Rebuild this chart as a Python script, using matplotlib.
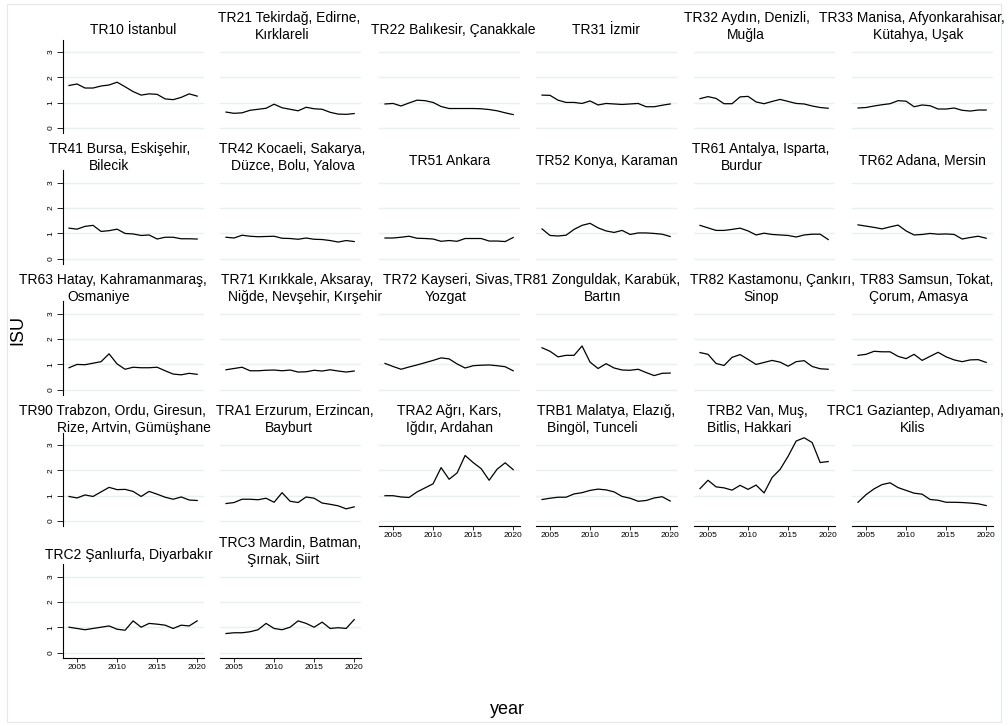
import matplotlib
matplotlib.use("Agg")
import matplotlib.pyplot as plt
from matplotlib.patches import Rectangle

plt.rcParams['font.family'] = ['Liberation Sans', 'DejaVu Sans']

years = list(range(2004, 2021))

regions = [
    "TR10 İstanbul", "TR21 Tekirdağ, Edirne,\nKırklareli", "TR22 Balıkesir, Çanakkale",
    "TR31 İzmir", "TR32 Aydın, Denizli,\nMuğla", "TR33 Manisa, Afyonkarahisar,\nKütahya, Uşak",
    "TR41 Bursa, Eskişehir,\nBilecik", "TR42 Kocaeli, Sakarya,\nDüzce, Bolu, Yalova", "TR51 Ankara",
    "TR52 Konya, Karaman", "TR61 Antalya, Isparta,\nBurdur", "TR62 Adana, Mersin",
    "TR63 Hatay, Kahramanmaraş,\nOsmaniye", "TR71 Kırıkkale, Aksaray,\nNiğde, Nevşehir, Kırşehir",
    "TR72 Kayseri, Sivas,\nYozgat", "TR81 Zonguldak, Karabük,\nBartın",
    "TR82 Kastamonu, Çankırı,\nSinop", "TR83 Samsun, Tokat,\nÇorum, Amasya",
    "TR90 Trabzon, Ordu, Giresun,\nRize, Artvin, Gümüşhane", "TRA1 Erzurum, Erzincan,\nBayburt",
    "TRA2 Ağrı, Kars,\nIğdır, Ardahan", "TRB1 Malatya, Elazığ,\nBingöl, Tunceli",
    "TRB2 Van, Muş,\nBitlis, Hakkari", "TRC1 Gaziantep, Adıyaman,\nKilis",
    "TRC2 Şanlıurfa, Diyarbakır", "TRC3 Mardin, Batman,\nŞırnak, Siirt",
]

tr10 = [1.68, 1.74, 1.58, 1.58, 1.66, 1.70, 1.81, 1.63, 1.44, 1.30, 1.35, 1.33, 1.15, 1.12, 1.21, 1.35, 1.26]
tr21 = [0.63, 0.58, 0.60, 0.70, 0.74, 0.78, 0.94, 0.80, 0.74, 0.68, 0.82, 0.76, 0.74, 0.62, 0.55, 0.54, 0.57]
tr22 = [0.95, 0.97, 0.87, 0.99, 1.10, 1.08, 1.01, 0.85, 0.77, 0.77, 0.77, 0.77, 0.76, 0.73, 0.68, 0.60, 0.53]
tr31 = [1.30, 1.29, 1.10, 1.01, 1.01, 0.97, 1.07, 0.91, 0.97, 0.95, 0.93, 0.95, 0.97, 0.84, 0.84, 0.90, 0.95]
tr32 = [1.16, 1.24, 1.17, 0.96, 0.96, 1.23, 1.25, 1.03, 0.96, 1.05, 1.13, 1.05, 0.97, 0.95, 0.87, 0.81, 0.78]
tr33 = [0.79, 0.81, 0.87, 0.92, 0.96, 1.08, 1.06, 0.84, 0.91, 0.88, 0.75, 0.75, 0.79, 0.70, 0.67, 0.71, 0.71]
tr41 = [1.20, 1.16, 1.27, 1.31, 1.07, 1.10, 1.16, 0.99, 0.97, 0.91, 0.93, 0.77, 0.84, 0.84, 0.78, 0.78, 0.77]
tr42 = [0.84, 0.81, 0.92, 0.88, 0.86, 0.87, 0.88, 0.80, 0.79, 0.76, 0.81, 0.76, 0.75, 0.71, 0.65, 0.71, 0.67]
tr51 = [0.81, 0.81, 0.84, 0.88, 0.80, 0.79, 0.77, 0.68, 0.71, 0.68, 0.79, 0.79, 0.79, 0.69, 0.69, 0.67, 0.83]
tr52 = [1.17, 0.91, 0.89, 0.92, 1.15, 1.31, 1.39, 1.21, 1.09, 1.03, 1.11, 0.95, 1.01, 1.01, 0.99, 0.96, 0.87]
tr61 = [1.31, 1.21, 1.11, 1.11, 1.15, 1.20, 1.09, 0.93, 1.00, 0.95, 0.93, 0.91, 0.85, 0.93, 0.96, 0.96, 0.75]
tr62 = [1.33, 1.28, 1.23, 1.17, 1.25, 1.32, 1.09, 0.93, 0.95, 0.99, 0.96, 0.97, 0.95, 0.77, 0.83, 0.88, 0.80]
tr63 = [0.86, 0.99, 0.98, 1.04, 1.10, 1.41, 1.01, 0.80, 0.88, 0.86, 0.86, 0.88, 0.74, 0.61, 0.58, 0.64, 0.60]
tr71 = [0.78, 0.83, 0.88, 0.74, 0.74, 0.76, 0.77, 0.74, 0.77, 0.69, 0.70, 0.76, 0.73, 0.78, 0.73, 0.69, 0.73]
tr72 = [1.03, 0.91, 0.80, 0.89, 0.97, 1.06, 1.15, 1.25, 1.21, 1.01, 0.85, 0.94, 0.96, 0.97, 0.94, 0.90, 0.74]
tr81 = [1.65, 1.51, 1.29, 1.35, 1.35, 1.72, 1.08, 0.83, 1.02, 0.85, 0.77, 0.76, 0.80, 0.67, 0.55, 0.64, 0.65]
tr82 = [1.46, 1.39, 1.03, 0.95, 1.27, 1.38, 1.19, 0.99, 1.07, 1.15, 1.08, 0.92, 1.10, 1.14, 0.91, 0.82, 0.80]
tr83 = [1.35, 1.39, 1.51, 1.49, 1.49, 1.31, 1.22, 1.39, 1.15, 1.31, 1.47, 1.29, 1.17, 1.10, 1.17, 1.18, 1.07]
tr90 = [0.97, 0.91, 1.03, 0.97, 1.15, 1.33, 1.24, 1.25, 1.17, 0.97, 1.17, 1.06, 0.94, 0.86, 0.95, 0.83, 0.81]
tra1 = [0.69, 0.73, 0.86, 0.86, 0.84, 0.90, 0.74, 1.12, 0.78, 0.73, 0.95, 0.90, 0.71, 0.66, 0.60, 0.48, 0.56]
tra2 = [1.00, 1.00, 0.95, 0.93, 1.15, 1.31, 1.47, 2.11, 1.65, 1.90, 2.59, 2.31, 2.07, 1.61, 2.05, 2.30, 2.03]
trb1 = [0.85, 0.90, 0.94, 0.94, 1.07, 1.12, 1.21, 1.26, 1.23, 1.15, 0.97, 0.90, 0.78, 0.81, 0.91, 0.96, 0.79]
trb2 = [1.28, 1.61, 1.35, 1.31, 1.22, 1.41, 1.25, 1.42, 1.11, 1.72, 2.04, 2.56, 3.16, 3.29, 3.10, 2.31, 2.35]
trc1 = [0.74, 1.04, 1.27, 1.44, 1.51, 1.32, 1.21, 1.10, 1.06, 0.85, 0.82, 0.74, 0.74, 0.73, 0.71, 0.68, 0.61]
trc2 = [1.00, 0.95, 0.90, 0.95, 1.00, 1.05, 0.92, 0.88, 1.25, 1.00, 1.15, 1.12, 1.08, 0.95, 1.08, 1.05, 1.25]
trc3 = [0.75, 0.78, 0.78, 0.82, 0.90, 1.15, 0.95, 0.90, 1.00, 1.25, 1.15, 1.00, 1.20, 0.95, 0.98, 0.95, 1.30]

series = [tr10, tr21, tr22, tr31, tr32, tr33, tr41, tr42, tr51, tr52, tr61, tr62,
          tr63, tr71, tr72, tr81, tr82, tr83, tr90, tra1, tra2, trb1, trb2, trc1, trc2, trc3]

# horizontal nudge (px) of each title line from the panel centre
title_dx = [
    (0,), (-1, -8), (4,), (0,), (-18, -19), (-11, -4),
    (-14, -24), (2, 2), (0,), (0,), (-4, -23), (0,),
    (-21, -35), (7, 15), (-2, -4), (-9, -4), (8, -3), (4, -4),
    (-21, 0), (4, -2), (0, 0), (0, -14), (-7, -15), (-7, -10),
    (-5,), (0, -7),
]

W, H = 1008, 726
fig = plt.figure(figsize=(W / 100, H / 100), dpi=100)
fig.patch.set_facecolor("white")

# light frame around the graph region
fig.add_artist(Rectangle((7 / W, 4 / H), 994 / W, 718 / H, transform=fig.transFigure,
                         fill=False, edgecolor="#e3e8ea", linewidth=0.8))

grid_col = "#e8f0f2"
ylo, yhi = -0.2, 3.48
unit = 25.3                      # pixels per ISU unit
ax_h = (yhi - ylo) * unit
ax_w = 141
col_left = [63, 220, 379, 536, 694, 852]
row_zero = [128, 258.5, 389.5, 521, 652.5]   # pixel row of the y=0 line


def px_text(x, y, s, **kw):
    fig.text(x / W, 1 - y / H, s, **kw)


ncols = 6
n = len(series)
for i, (name, vals) in enumerate(zip(regions, series)):
    r, c = divmod(i, ncols)
    bottom_px = row_zero[r] - ylo * unit
    ax = fig.add_axes([col_left[c] / W, 1 - bottom_px / H, ax_w / W, ax_h / H])
    ax.set_xlim(2003.25, 2020.85)
    ax.set_ylim(ylo, yhi)
    for g in [0, 1, 2, 3]:
        ax.axhline(g, color=grid_col, lw=1.0, zorder=0)
    ax.plot(years, vals, color="black", lw=0.9)

    for s in ["top", "right"]:
        ax.spines[s].set_visible(False)
    ax.spines["left"].set_visible(c == 0)
    ax.spines["left"].set_linewidth(0.8)

    # x axis only where no panel sits below
    show_x = (i + ncols >= n)
    ax.spines["bottom"].set_visible(show_x)
    ax.spines["bottom"].set_linewidth(0.8)
    ax.set_xticks([2005, 2010, 2015, 2020])
    if show_x:
        ax.tick_params(axis="x", length=3, width=0.6, pad=1.5, labelsize=6)
    else:
        ax.tick_params(axis="x", length=0, labelbottom=False)

    ax.set_yticks([0, 1, 2, 3])
    if c == 0:
        ax.tick_params(axis="y", length=4, width=0.6, pad=2, labelsize=6)
        for lab in ax.get_yticklabels():
            lab.set_rotation(90)
            lab.set_va("center")
    else:
        ax.tick_params(axis="y", length=0, labelleft=False)
    ax.patch.set_alpha(0)

    # panel title, one text per line
    lines = name.split("\n")
    g3 = row_zero[r] - 3 * unit
    cx = col_left[c] + ax_w / 2
    ys = [g3 - 22] if len(lines) == 1 else [g3 - 34, g3 - 17]
    for line, dx, y in zip(lines, title_dx[i], ys):
        px_text(cx + dx, y, line, ha="center", va="center", fontsize=10)

px_text(18, 330, "ISU", rotation=90, ha="center", va="center", fontsize=13)
px_text(507, 710, "year", ha="center", va="center", fontsize=13)

fig.savefig("out.png", dpi=100, facecolor="white")
